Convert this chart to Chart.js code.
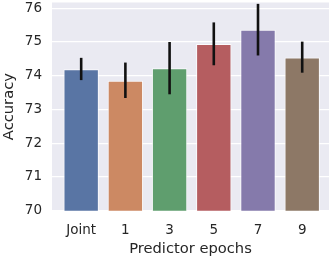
<!DOCTYPE html>
<html>
<head>
<meta charset="utf-8">
<script src="https://cdn.jsdelivr.net/npm/chart.js@4"></script>
<style>
  html, body { margin: 0; padding: 0; background: #fff; }
  #wrap { width: 329px; height: 258px; }
</style>
</head>
<body>
<div id="wrap"><canvas id="accChart"></canvas></div>
<script>
// data
const categories = ['Joint', '1', '3', '5', '7', '9'];
const accuracy = [74.19, 73.85, 74.22, 74.94, 75.36, 74.54];
const errLow = [73.87, 73.34, 73.45, 74.31, 74.60, 74.09];
const errHigh = [74.53, 74.39, 75.00, 75.58, 76.13, 75.01];
const yTicks = [70, 71, 72, 73, 74, 75, 76];
const barColors = ['#5975a4', '#cc8963', '#5f9e6e', '#b55d60', '#857aab', '#8d7866'];

const fontFamily = '"DejaVu Sans", sans-serif';

// grey seaborn background behind the plot
const bgPlugin = {
    id: 'bg',
    beforeDraw(chart) {
        const a = chart.chartArea;
        const ctx = chart.ctx;
        ctx.save();
        ctx.fillStyle = '#eaeaf2';
        ctx.fillRect(a.left, a.top, a.right - a.left, a.bottom - a.top);
        ctx.restore();
    }
};

// error bars from errLow / errHigh
const errPlugin = {
    id: 'errbars',
    afterDatasetsDraw(chart) {
        const x = chart.scales.x, y = chart.scales.y;
        const ctx = chart.ctx;
        ctx.save();
        ctx.strokeStyle = '#111';
        ctx.lineWidth = 2.6;
        for (let i = 0; i < categories.length; i++) {
            const px = x.getPixelForValue(i);
            ctx.beginPath();
            ctx.moveTo(px, y.getPixelForValue(errLow[i]));
            ctx.lineTo(px, y.getPixelForValue(errHigh[i]));
            ctx.stroke();
        }
        ctx.restore();
    }
};

const ctx = document.getElementById('accChart').getContext('2d');
new Chart(ctx, {
    type: 'bar',
    data: {
        datasets: [{
            data: accuracy.map((v, i) => ({ x: i, y: v })),
            backgroundColor: barColors,
            borderColor: 'rgba(255,255,255,0.8)',
            borderWidth: 1,
            borderSkipped: false,
            categoryPercentage: 0.8,
            barPercentage: 1.0
        }]
    },
    options: {
        responsive: true,
        maintainAspectRatio: false,
        animation: false,
        events: [],
        plugins: {
            legend: { display: false },
            tooltip: { enabled: false }
        },
        layout: { padding: { top: 2.5, right: 0, bottom: 0, left: 0 } },
        scales: {
            x: {
                type: 'linear',
                offset: false,
                min: -0.66,
                max: 5.606,
                afterBuildTicks(scale) {
                    scale.ticks = categories.map((c, i) => ({ value: i }));
                },
                afterFit(scale) {
                    scale.height = 47.3;
                    scale.paddingLeft = 0;
                    scale.paddingRight = 0;
                },
                grid: { display: false, drawTicks: false, offset: false },
                border: { display: false },
                ticks: {
                    callback: (v) => categories[v],
                    color: '#262626',
                    font: { family: fontFamily, size: 13.5 },
                    padding: 12,
                    autoSkip: false,
                    maxRotation: 0
                },
                title: {
                    display: true,
                    text: 'Predictor epochs',
                    color: '#262626',
                    font: { family: fontFamily, size: 14.7 },
                    padding: { top: 2, bottom: 0 }
                }
            },
            y: {
                min: 70,
                max: 76.17,
                afterBuildTicks(scale) {
                    scale.ticks = yTicks.map(v => ({ value: v }));
                },
                afterFit(scale) {
                    scale.width = 52;
                    scale.paddingTop = 0;
                    scale.paddingBottom = 0;
                },
                grid: { color: '#ffffff', lineWidth: 1.3, drawTicks: false },
                border: { display: false },
                ticks: {
                    color: '#262626',
                    font: { family: fontFamily, size: 13.5 },
                    padding: 10
                },
                title: {
                    display: true,
                    text: 'Accuracy',
                    color: '#262626',
                    font: { family: fontFamily, size: 14.7 },
                    padding: { top: 0, bottom: 2 }
                }
            }
        }
    },
    plugins: [bgPlugin, errPlugin]
});
</script>
</body>
</html>
